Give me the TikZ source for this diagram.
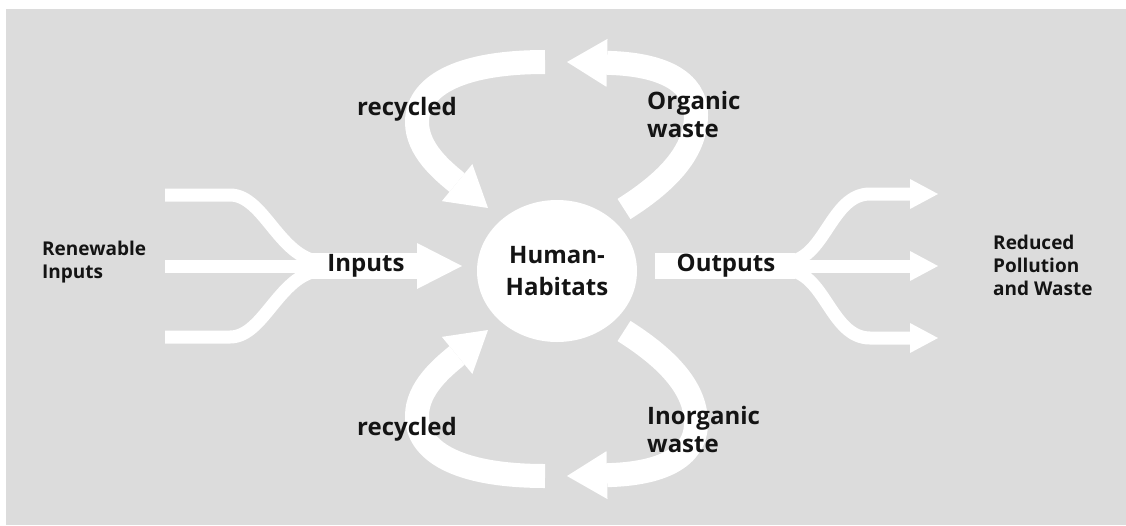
\documentclass[tikz,border=0pt]{standalone}
\usepackage{fontspec}
\setmainfont{Open Sans}
\usetikzlibrary{arrows.meta,shapes.geometric}
\definecolor{bggray}{RGB}{220,220,220}
\definecolor{inkblack}{RGB}{20,20,20}
\tikzset{
	flowthick/.style={draw=white, line width=26pt},
	flowthin/.style={draw=white, line width=13pt},
	flowloop/.style={draw=white, line width=24pt},
	bighead/.style={-{Triangle[width=46pt,length=45pt,line width=0pt]}},
	loophead/.style={-{Triangle[width=48pt,length=40pt,line width=0pt]}},
	smallhead/.style={-{Triangle[width=30pt,length=28pt,line width=0pt]}},
	biglabel/.style={text=inkblack, font=\bfseries\fontsize{24}{28}\selectfont, align=left, inner sep=0pt},
	smalllabel/.style={text=inkblack, font=\bfseries\fontsize{19}{23}\selectfont, align=left, inner sep=0pt}
}
\begin{document}
\begin{tikzpicture}[x=1pt, y=-1pt]
	%%%%% START %%%%%
	
	\fill[white] (0, 0) rectangle (1126, 525);
	\fill[bggray] (6, 9) rectangle (1126, 525);
	\useasboundingbox (0, 0) rectangle (1126, 525);
	
	\node[ellipse, fill=white, minimum width=160pt, minimum height=142pt, inner sep=0pt] (hab) at (557, 271) {};
	
	% inputs
	\coordinate (inA) at (165, 195);
	\coordinate (inB) at (165, 266);
	\coordinate (inC) at (165, 337);
	\coordinate (inmerge) at (312, 266);
	\coordinate (intip) at (462, 266);
	\draw[flowthin] (inA) -- (230, 195) .. controls (265, 195) and (280, 262) .. (325, 262);
	\draw[flowthin] (inB) -- (325, 266);
	\draw[flowthin] (inC) -- (230, 337) .. controls (265, 337) and (280, 270) .. (325, 270);
	\draw[flowthick, bighead] (inmerge) -- (intip);
	
	% outputs
	\coordinate (outstart) at (655, 266);
	\coordinate (outsplit) at (795, 266);
	\coordinate (outA) at (938, 194);
	\coordinate (outB) at (938, 266);
	\coordinate (outC) at (938, 338);
	\draw[flowthick] (outstart) -- (outsplit);
	\draw[flowthin, smallhead] (785, 262) .. controls (825, 262) and (830, 194) .. (870, 194) -- (outA);
	\draw[flowthin, smallhead] (785, 266) -- (outB);
	\draw[flowthin, smallhead] (785, 270) .. controls (825, 270) and (830, 338) .. (870, 338) -- (outC);
	
	% loops
	\coordinate (topfree) at (545, 62);
	\coordinate (toptip) at (567, 62);
	\coordinate (botfree) at (545, 476);
	\coordinate (bottip) at (567, 476);
	\coordinate (ulin) at (488, 208);
	\coordinate (urout) at (624, 209);
	\coordinate (llin) at (488, 330);
	\coordinate (lrout) at (624, 331);
	\draw[flowloop, loophead] (topfree) .. controls (455, 62) and (417, 88) .. (417, 122) .. controls (417, 150) and (443, 171) .. (ulin);
	\draw[flowloop, loophead] (urout) .. controls (670, 180) and (696, 150) .. (696, 115) .. controls (696, 80) and (660, 64) .. (toptip);
	\draw[flowloop, loophead] (botfree) .. controls (455, 476) and (417, 450) .. (417, 416) .. controls (417, 388) and (443, 367) .. (llin);
	\draw[flowloop, loophead] (lrout) .. controls (670, 360) and (696, 390) .. (696, 423) .. controls (696, 458) and (660, 474) .. (bottip);
	
	% labels
	\node[biglabel, align=center, font=\bfseries\fontsize{24}{32}\selectfont] at (hab) {Human-\\Habitats};
	\node[biglabel] (inlbl) at (366, 266) {Inputs};
	\node[biglabel] (outlbl) at (726, 266) {Outputs};
	\node[biglabel] (recup) at (407, 109) {recycled};
	\node[biglabel] (reclow) at (407, 429) {recycled};
	\node[biglabel, anchor=west] (orgw) at (647, 114) {Organic\\waste};
	\node[biglabel, anchor=west] (inorgw) at (647, 429) {Inorganic\\waste};
	\node[smalllabel, anchor=west] (renew) at (42, 262) {Renewable\\Inputs};
	\node[smalllabel, anchor=west] (reduced) at (993, 265) {Reduced\\Pollution\\and Waste};
	
	%%%%% END %%%%%
\end{tikzpicture}
\end{document}
